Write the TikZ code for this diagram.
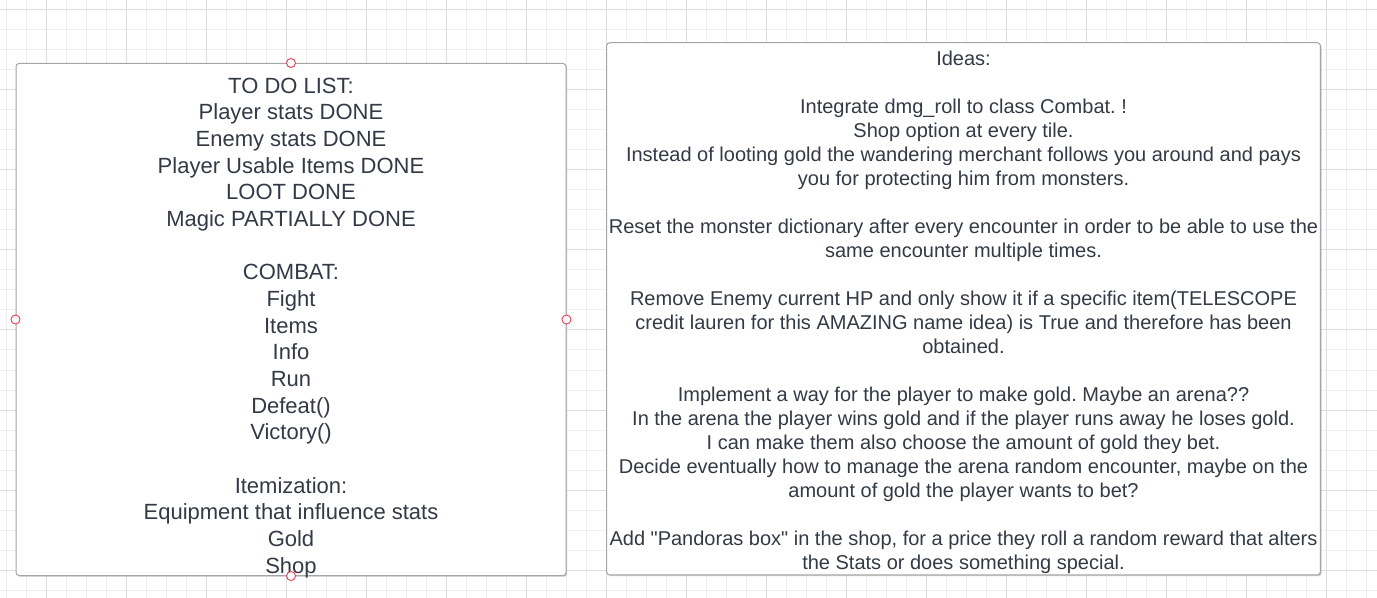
\documentclass[tikz,border=0pt]{standalone}
\usepackage{fontspec}
\setmainfont{Liberation Sans}[Ligatures=TeXOff]
\usepackage{xcolor}
\usepackage{tikz}
\usetikzlibrary{shadows}

\definecolor{griglia}{HTML}{EFEFEF}
\definecolor{grigliaforte}{HTML}{DEDEDE}
\definecolor{bordo}{HTML}{A5A5A5}
\definecolor{ombra}{HTML}{C9C9C9}
\definecolor{testo}{HTML}{333A46}
\definecolor{maniglia}{HTML}{E2445C}

\tikzset{
  card/.style={draw=bordo, fill=white, line width=0.75pt, rounded corners=2.25pt,
    drop shadow={shadow xshift=0.9pt, shadow yshift=-0.9pt, fill=ombra, opacity=1}},
  handle/.style={circle, draw=maniglia, fill=white, line width=0.7pt, minimum size=6.75pt, inner sep=0pt},
  notes/.style={align=center, text=testo, inner sep=0pt, anchor=base},
}

\begin{document}
\frenchspacing
\begin{tikzpicture}[x=0.75pt, y=-0.75pt]
        \useasboundingbox (0,0) rectangle (1377,598);
        \fill[white] (0,0) rectangle (1377,598);

        % Griglia
        \foreach \x in {6.67,26.67,...,1377} \draw[griglia, line width=0.75pt] (\x,0) -- (\x,598);
        \foreach \y in {10,30,...,598} \draw[griglia, line width=0.75pt] (0,\y) -- (1377,\y);
        \foreach \x in {46.67,126.67,...,1377} \draw[grigliaforte, line width=0.75pt] (\x,0) -- (\x,598);
        \foreach \y in {10,90,...,598} \draw[grigliaforte, line width=0.75pt] (0,\y) -- (1377,\y);

        % Riquadri
        \node[card, minimum width=412.5pt, minimum height=384pt] (todo) at (291,319.5) {};
        \node[card, minimum width=535.2pt, minimum height=399.2pt] (ideas) at (963.5,308.85) {};

        % TO DO LIST (base = ultima riga)
        \node[notes, font=\fontsize{16.5}{20}\selectfont\frenchspacing] (todotext) at (291,573) {%
            TO DO LIST:\\
            Player stats DONE\\
            Enemy stats DONE\\
            Player Usable Items DONE\\
            LOOT DONE\\
            Magic PARTIALLY DONE\\[20pt]
            COMBAT:\\
            Fight\\
            Items\\
            Info\\
            Run\\
            Defeat()\\
            Victory()\\[20pt]
            Itemization:\\
            Equipment that influence stats\\
            Gold\\
            Shop};

        % Ideas
        \node[notes, font=\fontsize{15}{18}\selectfont\frenchspacing] (ideastext) at (963.5,569.5) {%
            Ideas:\\[18pt]
            Integrate dmg\_roll to class Combat. !\\
            Shop option at every tile.\\
            Instead of looting gold the wandering merchant follows you around and pays\\
            you for protecting him from monsters.\\[18pt]
            Reset the monster dictionary after every encounter in order to be able to use the\\
            same encounter multiple times.\\[18pt]
            Remove Enemy current HP and only show it if a specific item(TELESCOPE\\
            credit lauren for this AMAZING name idea) is True and therefore has been\\
            obtained.\\[18pt]
            Implement a way for the player to make gold. Maybe an arena??\\
            In the arena the player wins gold and if the player runs away he loses gold.\\
            I can make them also choose the amount of gold they bet.\\
            Decide eventually how to manage the arena random encounter, maybe on the\\
            amount of gold the player wants to bet?\\[18pt]
            Add "Pandoras box" in the shop, for a price they roll a random reward that alters\\
            the Stats or does something special.};

        % Maniglie
        \node[handle] (hn) at (todo.north) {};
        \node[handle] (hs) at (todo.south) {};
        \node[handle] (hw) at (todo.west) {};
        \node[handle] (he) at (todo.east) {};
\end{tikzpicture}
\end{document}
